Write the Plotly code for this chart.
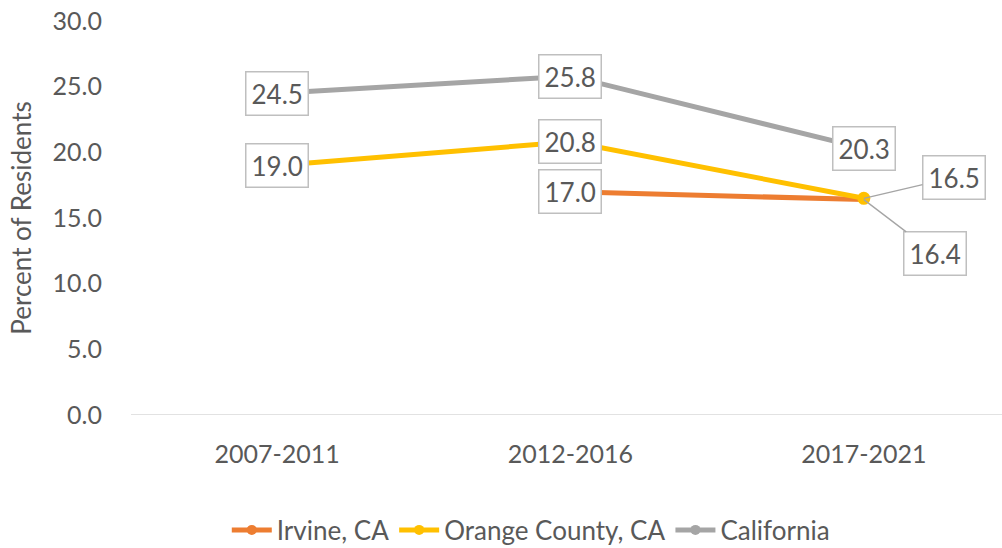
import plotly.graph_objects as go

periods = ["2007-2011", "2012-2016", "2017-2021"]
irvine = [None, 17.0, 16.4]
orange_county = [19.0, 20.8, 16.5]
california = [24.5, 25.8, 20.3]
y_ticks = [0, 5, 10, 15, 20, 25, 30]

series = [
    ("Irvine, CA", irvine, "#ED7D31"),
    ("Orange County, CA", orange_county, "#FFC000"),
    ("California", california, "#A5A5A5"),
]

FONT = "Lato, 'Open Sans', sans-serif"
TXT = "#595959"

fig = go.Figure()
for name, vals, col in series:
    fig.add_trace(go.Scatter(x=periods, y=vals, mode="lines", name=name,
                             line=dict(color=col, width=5), showlegend=False,
                             hoverinfo="skip"))
# visible marker at the final Orange County point
fig.add_trace(go.Scatter(x=[periods[2]], y=[orange_county[2]], mode="markers",
                         marker=dict(color="#FFC000", size=13), showlegend=False))
# legend entries
for name, vals, col in series:
    fig.add_trace(go.Scatter(x=[None], y=[None], mode="lines+markers", name=name,
                             line=dict(color=col, width=5),
                             marker=dict(color=col, size=10)))

box = dict(bgcolor="white", bordercolor="#BFBFBF", borderwidth=1.5, borderpad=5,
           font=dict(family=FONT, size=26, color=TXT))

def label(x, y, **kw):
    a = dict(x=x, y=y, xref="x", yref="y", text=f"{y:.1f}", showarrow=False)
    a.update(box)
    a.update(kw)
    fig.add_annotation(**a)

for i in range(3):
    if california[i] is not None:
        label(periods[i], california[i])
for i in range(2):
    label(periods[i], orange_county[i])
label(periods[1], irvine[1])
# offset labels with leader lines
label(periods[2], orange_county[2], showarrow=True, arrowhead=0, arrowwidth=1.3,
      arrowcolor="#A5A5A5", ax=90, ay=-21, standoff=0)
label(periods[2], irvine[2], showarrow=True, arrowhead=0, arrowwidth=1.3,
      arrowcolor="#A5A5A5", ax=71, ay=54, standoff=0)

fig.update_layout(
    width=1002, height=548,
    margin=dict(l=131, r=0, t=21, b=0, autoexpand=False),
    paper_bgcolor="white", plot_bgcolor="white",
    font=dict(family=FONT, color=TXT, size=24),
    xaxis=dict(type="category", range=[-0.498, 2.471], showgrid=False,
               showline=False, zeroline=False, ticks="",
               tickfont=dict(size=25, color=TXT), ticklabelstandoff=22),
    yaxis=dict(range=[0, 30], domain=[0.2524, 1], tickvals=y_ticks,
               ticktext=[f"{v:.1f}" for v in y_ticks],
               showgrid=False, zeroline=False, showline=False, ticks="",
               tickfont=dict(size=25, color=TXT), ticklabelstandoff=28,
               ticklabeloverflow="allow",
               title=dict(text="Percent of Residents", font=dict(size=26, color=TXT),
                          standoff=13)),
    legend=dict(orientation="h", x=0.459, xanchor="center", y=0.0342, yanchor="middle",
                xref="paper", font=dict(size=26, color=TXT), itemwidth=40,
                traceorder="normal"),
    shapes=[dict(type="line", xref="paper", yref="y", x0=0, x1=1, y0=0, y1=0,
                 line=dict(color="#D9D9D9", width=1.5))],
)

fig.write_html("out.html", config={"displayModeBar": False},
               post_script="document.body.style.margin='0';document.body.style.overflow='hidden';")
